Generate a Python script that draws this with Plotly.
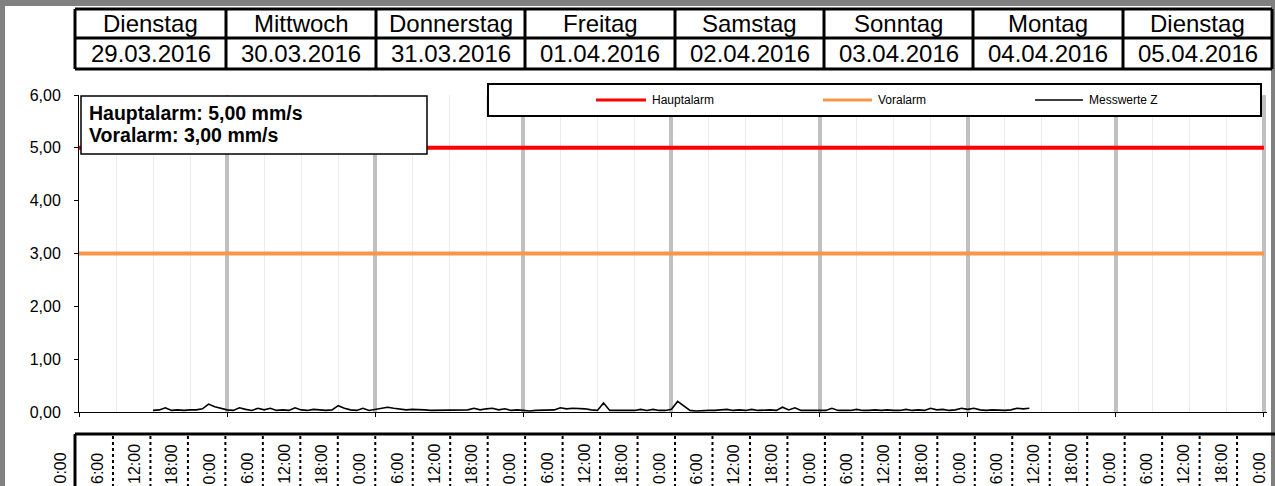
import plotly.graph_objects as go
import pandas as pd

# ---------------- data ----------------
day_names = ["Dienstag", "Mittwoch", "Donnerstag", "Freitag", "Samstag", "Sonntag", "Montag", "Dienstag"]
day_dates = ["29.03.2016", "30.03.2016", "31.03.2016", "01.04.2016", "02.04.2016", "03.04.2016", "04.04.2016", "05.04.2016"]
time_cycle = ["0:00", "6:00", "12:00", "18:00"]
n_time_labels = 33

alarm_x = ["2016-03-29 00:00", "2016-04-06 00:00"]
hauptalarm = [5.0, 5.0]
voralarm = [3.0, 3.0]

mess_start = "2016-03-29 12:00"
mess_d1 = [0.03, 0.04, 0.08, 0.03, 0.04, 0.03, 0.04, 0.04, 0.06, 0.15, 0.10, 0.07]
mess_d2 = [0.04, 0.03, 0.08, 0.05, 0.03, 0.07, 0.04, 0.07, 0.03, 0.04, 0.03, 0.08,
           0.04, 0.03, 0.05, 0.04, 0.03, 0.04, 0.12, 0.07, 0.04, 0.03, 0.07, 0.03]
mess_d3 = [0.05, 0.08, 0.09, 0.07, 0.05, 0.04, 0.05, 0.05, 0.04, 0.03, 0.03, 0.03,
           0.04, 0.03, 0.03, 0.04, 0.07, 0.04, 0.06, 0.07, 0.04, 0.06, 0.03, 0.04]
mess_d4 = [0.03, 0.02, 0.03, 0.03, 0.03, 0.04, 0.08, 0.06, 0.07, 0.07, 0.06, 0.04,
           0.03, 0.17, 0.03, 0.03, 0.03, 0.04, 0.03, 0.05, 0.03, 0.05, 0.03, 0.03]
mess_d5 = [0.05, 0.20, 0.11, 0.03, 0.02, 0.03, 0.03, 0.03, 0.04, 0.05, 0.03, 0.04,
           0.03, 0.05, 0.03, 0.04, 0.04, 0.03, 0.09, 0.04, 0.08, 0.03, 0.03, 0.03]
mess_d6 = [0.03, 0.03, 0.07, 0.03, 0.03, 0.03, 0.05, 0.03, 0.03, 0.04, 0.03, 0.04,
           0.03, 0.03, 0.05, 0.03, 0.04, 0.03, 0.07, 0.04, 0.05, 0.03, 0.04, 0.07]
mess_d7 = [0.05, 0.07, 0.04, 0.03, 0.04, 0.03, 0.03, 0.04, 0.07, 0.06, 0.07]
messwerte = mess_d1 + mess_d2 + mess_d3 + mess_d4 + mess_d5 + mess_d6 + mess_d7
mess_x = pd.date_range(mess_start, periods=len(messwerte), freq="h")

names = ["Hauptalarm", "Voralarm", "Messwerte Z"]
info_lines = ["Hauptalarm: 5,00 mm/s", "Voralarm: 3,00 mm/s"]

# ---------------- layout helpers ----------------
W, H = 1275, 486
L, R, T, B = 79, 1267, 95, 412
FONT = "Liberation Sans, Arial, sans-serif"


def px(xp):
    return (xp - L) / (R - L)


def py(yp):
    return (B - yp) / (B - T)


RED = "#ff0000"
ORANGE = "#f79646"

fig = go.Figure()
fig.add_trace(go.Scatter(x=alarm_x, y=hauptalarm, mode="lines", name=names[0],
                         line=dict(color=RED, width=4), showlegend=False, hoverinfo="skip"))
fig.add_trace(go.Scatter(x=alarm_x, y=voralarm, mode="lines", name=names[1],
                         line=dict(color=ORANGE, width=4), showlegend=False, hoverinfo="skip"))
fig.add_trace(go.Scatter(x=mess_x, y=messwerte, mode="lines", name=names[2],
                         line=dict(color="black", width=1.6), showlegend=False))

shapes = []
annotations = []

# gray frame
GRAY = "#808080"
shapes.append(dict(type="rect", xref="paper", yref="paper", x0=px(0), x1=px(W), y0=py(0), y1=py(6),
                   fillcolor=GRAY, line=dict(width=0), layer="above"))
shapes.append(dict(type="rect", xref="paper", yref="paper", x0=px(0), x1=px(5), y0=py(0), y1=py(H),
                   fillcolor=GRAY, line=dict(width=0), layer="above"))
shapes.append(dict(type="rect", xref="paper", yref="paper", x0=px(1271), x1=px(W), y0=py(0), y1=py(H),
                   fillcolor=GRAY, line=dict(width=0), layer="above"))

# header table
hx = [75, 226, 376, 525, 675, 824, 973, 1123, 1272]
hy_top, hy_mid, hy_bot = 9, 38, 69
for yy in (hy_top, hy_mid, hy_bot):
    shapes.append(dict(type="line", xref="paper", yref="paper", x0=px(hx[0]), x1=px(hx[-1]),
                       y0=py(yy), y1=py(yy), line=dict(color="black", width=3), layer="above"))
for xx in hx:
    shapes.append(dict(type="line", xref="paper", yref="paper", x0=px(xx), x1=px(xx),
                       y0=py(hy_top), y1=py(hy_bot), line=dict(color="black", width=3), layer="above"))
for i in range(len(day_names)):
    cx = (hx[i] + hx[i + 1]) / 2
    annotations.append(dict(text=day_names[i], xref="paper", yref="paper", x=px(cx), y=py(23.5),
                            showarrow=False, font=dict(family=FONT, size=24, color="black"),
                            xanchor="center", yanchor="middle"))
    annotations.append(dict(text=day_dates[i], xref="paper", yref="paper", x=px(cx), y=py(54),
                            showarrow=False, font=dict(family=FONT, size=24, color="black"),
                            xanchor="center", yanchor="middle"))

# info box
shapes.append(dict(type="rect", xref="paper", yref="paper", x0=px(81), x1=px(427), y0=py(96), y1=py(154),
                   fillcolor="white", line=dict(color="black", width=1.5), layer="above"))
for j, txt in enumerate(info_lines):
    annotations.append(dict(text="<b>%s</b>" % txt, xref="paper", yref="paper", x=px(87),
                            y=py(113.5 + 21 * j), showarrow=False, xanchor="left", yanchor="middle",
                            font=dict(family=FONT, size=19.5, color="black")))

# legend box (manual)
shapes.append(dict(type="rect", xref="paper", yref="paper", x0=px(488), x1=px(1261), y0=py(84), y1=py(116),
                   fillcolor="white", line=dict(color="black", width=2), layer="above"))
leg_items = [(names[0], RED, 3, 596, 646), (names[1], ORANGE, 3, 823, 872), (names[2], "black", 1.5, 1035, 1083)]
for nm, col, wd, a, b in leg_items:
    shapes.append(dict(type="line", xref="paper", yref="paper", x0=px(a), x1=px(b), y0=py(100), y1=py(100),
                       line=dict(color=col, width=wd), layer="above"))
    annotations.append(dict(text=nm, xref="paper", yref="paper", x=px(b + 4), y=py(100), showarrow=False,
                            xanchor="left", yanchor="middle", font=dict(family=FONT, size=12, color="black")))

# bottom time table
by_top = 434
shapes.append(dict(type="line", xref="paper", yref="paper", x0=px(75), x1=px(1275), y0=py(by_top), y1=py(by_top),
                   line=dict(color="black", width=3), layer="above"))
shapes.append(dict(type="line", xref="paper", yref="paper", x0=px(75), x1=px(75), y0=py(by_top), y1=py(H),
                   line=dict(color="black", width=3), layer="above"))
step = 37.47
for k in range(1, 32):
    xx = 75.5 + step * k
    shapes.append(dict(type="line", xref="paper", yref="paper", x0=px(xx), x1=px(xx), y0=py(by_top + 2), y1=py(H),
                       line=dict(color="black", width=2, dash="dot"), layer="above"))
for n in range(n_time_labels):
    lab = time_cycle[n % 4]
    annotations.append(dict(text=lab, xref="paper", yref="paper", x=px(60 + step * n), y=py(485),
                            showarrow=False, textangle=-90, xanchor="center", yanchor="bottom",
                            borderpad=0,
                            font=dict(family=FONT, size=16, color="black")))

fig.update_layout(
    width=W, height=H,
    margin=dict(l=L, r=W - R, t=T, b=H - B, autoexpand=False),
    paper_bgcolor="white", plot_bgcolor="white",
    separators=",.",
    showlegend=False,
    shapes=shapes, annotations=annotations,
    xaxis=dict(type="date", range=["2016-03-29 00:00", "2016-04-06 00:30"],
               tick0="2016-03-29 00:00", dtick=86400000,
               showgrid=True, gridcolor="#c0c0c0", gridwidth=4,
               ticks="outside", ticklen=4, tickcolor="black", showticklabels=False,
               showline=True, linecolor="black", linewidth=1, zeroline=False,
               minor=dict(dtick=6 * 3600000, showgrid=True, gridcolor="#ececec", gridwidth=1, ticks="")),
    yaxis=dict(range=[0, 6], dtick=1, tickformat=".2f", showgrid=False, zeroline=False,
               showline=True, linecolor="black", linewidth=1,
               ticks="outside", ticklen=4, tickcolor="black", ticklabelstandoff=10,
               tickfont=dict(family=FONT, size=16, color="black")),
)

fig.write_html("out.html", config={"displayModeBar": False},
               post_script="document.body.style.margin='0';document.body.style.overflow='hidden';")
